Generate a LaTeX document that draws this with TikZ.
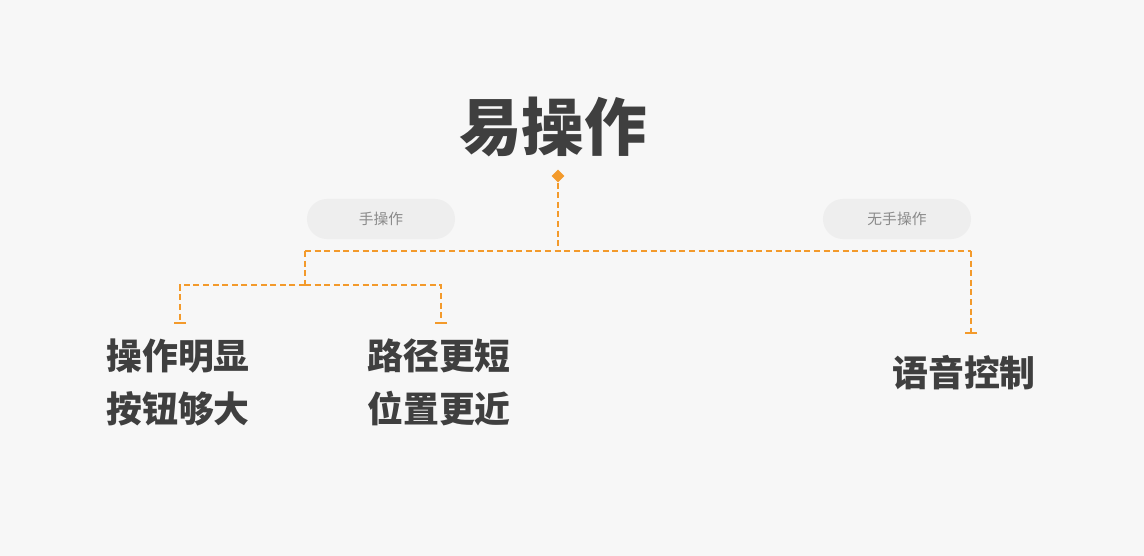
\documentclass[tikz,border=0pt]{standalone}
\usepackage{fontspec}
\setmainfont{Noto Sans CJK SC}
\usepackage{tikz}
\usetikzlibrary{positioning, arrows.meta, calc, shapes.geometric}
\definecolor{paper}{HTML}{F7F7F7}
\definecolor{pill}{HTML}{EEEEEE}
\definecolor{pillText}{HTML}{8A8A8A}
\definecolor{ink}{HTML}{3F3F3F}
\definecolor{amber}{HTML}{F39A2B}

\begin{document}
\begin{tikzpicture}[x=0.025cm, y=-0.025cm, every node/.style={align=center}]
    \tikzset{tagpill/.style={fill=pill,rounded corners=0.5cm,minimum width=3.7cm,minimum height=1cm,font=\fontsize{10.5pt}{12pt}\selectfont\color{pillText}},
      leaf/.style={font=\fontsize{25.5pt}{37.7pt}\selectfont\bfseries\color{ink}},
      link/.style={draw=amber,line width=1.8pt,dash pattern=on 0.15cm off 0.09cm},
      linkend/.style={link,-{Bar[width=0.3cm,line width=1.6pt]}}}
    \path[fill=paper] (0,0) rectangle (1144,556);
    \node[font=\fontsize{44.5pt}{50pt}\selectfont\bfseries\color{ink}] (title) at (553,127) {易操作};
    \node[diamond,fill=amber,inner sep=0pt,minimum size=0.32cm] (tip) at (558,176) {};
    \node[tagpill] (hand) at (381,219) {手操作};
    \node[tagpill] (nohand) at (897,219) {无手操作};
    \node[leaf] (obvious) at (178,382) {操作明显\\按钮够大};
    \node[leaf] (short) at (439,382) {路径更短\\位置更近};
    \node[leaf] (voice) at (964,373) {语音控制};
    % branch points and line ends
    \coordinate (hub) at (558,251);
    \coordinate (handhub) at (305,251);
    \coordinate (split) at (305,285);
    \coordinate (voicetop) at (971,251);
    \coordinate (obviousend) at (180,324);
    \coordinate (shortend) at (441,324);
    \coordinate (voiceend) at (971,334);
    \draw[link] (tip.south) -- (hub);
    \draw[link] (handhub) -- (voicetop);
    \draw[link] (handhub) -- (split);
    \draw[linkend] (split) -| (obviousend);
    \draw[linkend] (split) -| (shortend);
    \draw[linkend] (voicetop) -- (voiceend);
\end{tikzpicture}
\end{document}
